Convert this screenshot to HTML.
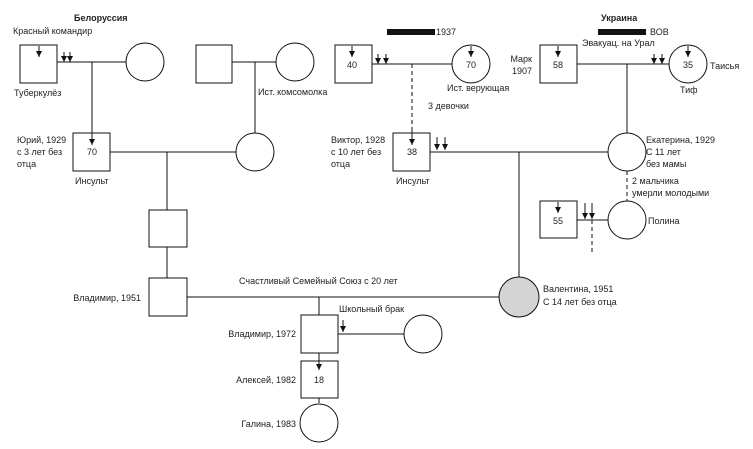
<!DOCTYPE html>
<html><head><meta charset="utf-8"><style>
html,body{margin:0;padding:0;background:#fff;}
svg{display:block;}
text{font-family:"Liberation Sans",sans-serif;font-size:9px;fill:#222;}
</style></head><body>
<svg width="753" height="449" viewBox="0 0 753 449" xmlns="http://www.w3.org/2000/svg">
<defs><marker id="a" markerWidth="6" markerHeight="7" refX="3" refY="6" orient="0" markerUnits="userSpaceOnUse"><path d="M0,0 L6,0 L3,6 z" fill="#111"/></marker></defs>
<g stroke="#111" stroke-width="1" fill="#fff">
<line x1="57" y1="62" x2="126" y2="62"/>
<line x1="92" y1="62" x2="92" y2="133"/>
<line x1="232" y1="62" x2="276" y2="62"/>
<line x1="255" y1="62" x2="255" y2="133"/>
<line x1="372" y1="64" x2="452" y2="64"/>
<line x1="412" y1="64" x2="412" y2="133" stroke-dasharray="4,3"/>
<line x1="577" y1="64" x2="669" y2="64"/>
<line x1="627" y1="64" x2="627" y2="133"/>
<line x1="110" y1="152" x2="236" y2="152"/>
<line x1="167" y1="152" x2="167" y2="210"/>
<line x1="167" y1="247" x2="167" y2="278"/>
<line x1="430" y1="152" x2="608" y2="152"/>
<line x1="519" y1="152" x2="519" y2="277"/>
<line x1="627" y1="171" x2="627" y2="201" stroke-dasharray="4,3"/>
<line x1="577" y1="220" x2="608" y2="220"/>
<line x1="592" y1="220" x2="592" y2="254" stroke-dasharray="4,3"/>
<line x1="187" y1="297" x2="499" y2="297"/>
<line x1="319" y1="297" x2="319" y2="315"/>
<line x1="338" y1="334" x2="404" y2="334"/>
<line x1="319" y1="353" x2="319" y2="361"/>
<line x1="319" y1="398" x2="319" y2="403"/>
<rect x="20" y="45" width="37" height="38"/>
<circle cx="145" cy="62" r="19"/>
<rect x="196" y="45" width="36" height="38"/>
<circle cx="295" cy="62" r="19"/>
<rect x="335" y="45" width="37" height="38"/>
<circle cx="471" cy="64" r="19"/>
<rect x="540" y="45" width="37" height="38"/>
<circle cx="688" cy="64" r="19"/>
<rect x="73" y="133" width="37" height="38"/>
<circle cx="255" cy="152" r="19"/>
<rect x="393" y="133" width="37" height="38"/>
<circle cx="627" cy="152" r="19"/>
<rect x="540" y="201" width="37" height="37"/>
<circle cx="627" cy="220" r="19"/>
<rect x="149" y="210" width="38" height="37"/>
<rect x="149" y="278" width="38" height="38"/>
<circle cx="519" cy="297" r="20" fill="#d4d4d4"/>
<rect x="301" y="315" width="37" height="38"/>
<circle cx="423" cy="334" r="19"/>
<rect x="301" y="361" width="37" height="37"/>
<circle cx="319" cy="423" r="19"/>
<g marker-end="url(#a)">
<line x1="39" y1="46" x2="39" y2="57"/>
<line x1="64" y1="52" x2="64" y2="62"/>
<line x1="70" y1="52" x2="70" y2="62"/>
<line x1="92" y1="130" x2="92" y2="145"/>
<line x1="352" y1="46" x2="352" y2="57"/>
<line x1="378" y1="54" x2="378" y2="64"/>
<line x1="386" y1="54" x2="386" y2="64"/>
<line x1="471" y1="46" x2="471" y2="57"/>
<line x1="412" y1="130" x2="412" y2="145"/>
<line x1="558" y1="46" x2="558" y2="57"/>
<line x1="654" y1="54" x2="654" y2="64"/>
<line x1="662" y1="54" x2="662" y2="64"/>
<line x1="688" y1="46" x2="688" y2="57"/>
<line x1="437" y1="137" x2="437" y2="150"/>
<line x1="445" y1="137" x2="445" y2="150"/>
<line x1="558" y1="202" x2="558" y2="213"/>
<line x1="585" y1="203" x2="585" y2="219"/>
<line x1="592" y1="203" x2="592" y2="219"/>
<line x1="343" y1="320" x2="343" y2="332"/>
<line x1="319" y1="355" x2="319" y2="370"/>
</g>
</g>
<rect x="387" y="29" width="48" height="6" fill="#111"/>
<rect x="598" y="29" width="48" height="6" fill="#111"/>
<text x="74" y="21" style="font-weight:bold">Белоруссия</text>
<text x="13" y="34">Красный командир</text>
<text x="14" y="96">Туберкулёз</text>
<text x="258" y="95">Ист. комсомолка</text>
<text x="436" y="35">1937</text>
<text x="447" y="91">Ист. верующая</text>
<text x="428" y="109">3 девочки</text>
<text x="601" y="21" style="font-weight:bold">Украина</text>
<text x="650" y="35">ВОВ</text>
<text x="582" y="46">Эвакуац. на Урал</text>
<text x="532" y="62" text-anchor="end">Марк</text>
<text x="532" y="74" text-anchor="end">1907</text>
<text x="710" y="69">Таисья</text>
<text x="680" y="93">Тиф</text>
<text x="352" y="68" text-anchor="middle">40</text>
<text x="471" y="68" text-anchor="middle">70</text>
<text x="558" y="68" text-anchor="middle">58</text>
<text x="688" y="68" text-anchor="middle">35</text>
<text x="17" y="143">Юрий, 1929</text>
<text x="17" y="155">с 3 лет без</text>
<text x="17" y="167">отца</text>
<text x="92" y="155" text-anchor="middle">70</text>
<text x="75" y="184">Инсульт</text>
<text x="331" y="143">Виктор, 1928</text>
<text x="331" y="155">с 10 лет без</text>
<text x="331" y="167">отца</text>
<text x="412" y="155" text-anchor="middle">38</text>
<text x="396" y="184">Инсульт</text>
<text x="646" y="143">Екатерина, 1929</text>
<text x="646" y="155">С 11 лет</text>
<text x="646" y="167">без мамы</text>
<text x="632" y="184">2 мальчика</text>
<text x="632" y="196">умерли молодыми</text>
<text x="558" y="224" text-anchor="middle">55</text>
<text x="648" y="224">Полина</text>
<text x="239" y="284">Счастливый Семейный Союз с 20 лет</text>
<text x="141" y="301" text-anchor="end">Владимир, 1951</text>
<text x="543" y="292">Валентина, 1951</text>
<text x="543" y="305">С 14 лет без отца</text>
<text x="339" y="312">Школьный брак</text>
<text x="296" y="337" text-anchor="end">Владимир, 1972</text>
<text x="296" y="383" text-anchor="end">Алексей, 1982</text>
<text x="319" y="383" text-anchor="middle">18</text>
<text x="296" y="427" text-anchor="end">Галина, 1983</text>
</svg>
</body></html>
